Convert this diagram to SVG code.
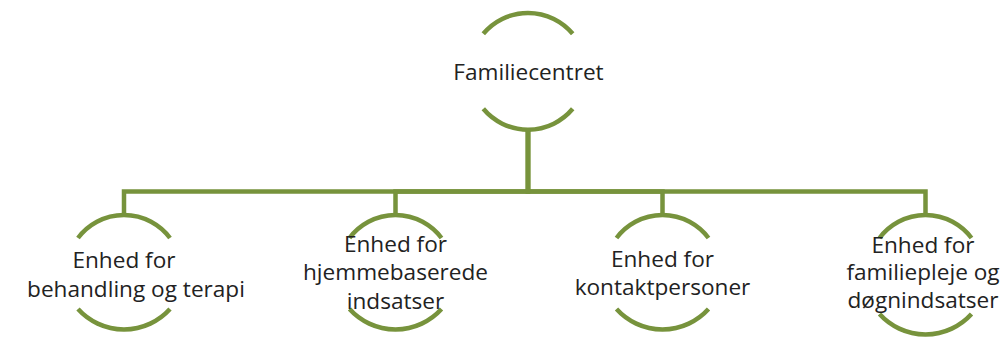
<svg xmlns="http://www.w3.org/2000/svg" width="1007" height="340" viewBox="0 0 1007 340">
  <style>
    .arc { fill: none; stroke: #77933C; stroke-width: 4.5; stroke-linecap: butt; }
    .conn { fill: none; stroke: #77933C; stroke-width: 4.5; stroke-linejoin: miter; }
    text { font-family: "Open Sans", "Liberation Sans", sans-serif; font-size: 22.6px; fill: #222222; text-anchor: middle; }
  </style>
  <rect width="1007" height="340" fill="#ffffff"/>
  <g id="connectors">
    <path class="conn" d="M528,130 V191.5 H124 V215"/>
    <path class="conn" d="M528,130 V191.5 H395.5 V215"/>
    <path class="conn" d="M528,130 V191.5 H662.5 V215"/>
    <path class="conn" d="M528,130 V191.5 H925.5 V215"/>
  </g>
  <g id="familiecentret">
    <path class="arc" d="M483.3,33.8 A58.3,58.3 0 0 1 572.7,33.8"/>
    <path class="arc" d="M483.3,108.8 A58.3,58.3 0 0 0 572.7,108.8"/>
    <text x="528.5" y="80">Familiecentret</text>
  </g>
  <g id="behandling">
    <path class="arc" d="M78,238 A57.5,57.5 0 0 1 170,238"/>
    <path class="arc" d="M78,309 A62,62 0 0 0 170,309"/>
    <text x="124" y="268">Enhed for</text>
    <text x="136" y="297">behandling og terapi</text>
  </g>
  <g id="hjemmebaserede">
    <path class="arc" d="M349.5,238 A57.5,57.5 0 0 1 441.5,238"/>
    <path class="arc" d="M349.5,309 A62,62 0 0 0 441.5,309"/>
    <text x="395.5" y="252">Enhed for</text>
    <text x="395.5" y="280">hjemmebaserede</text>
    <text x="395.5" y="309">indsatser</text>
  </g>
  <g id="kontaktpersoner">
    <path class="arc" d="M616.5,238 A57.5,57.5 0 0 1 708.5,238"/>
    <path class="arc" d="M616.5,309 A62,62 0 0 0 708.5,309"/>
    <text x="662.5" y="267">Enhed for</text>
    <text x="662.5" y="295">kontaktpersoner</text>
  </g>
  <g id="familiepleje">
    <path class="arc" d="M879.5,238 A57.5,57.5 0 0 1 971.5,238"/>
    <path class="arc" d="M879.5,314 A62,62 0 0 0 971.5,314"/>
    <text x="923" y="253">Enhed for</text>
    <text x="923" y="280">familiepleje og</text>
    <text x="923" y="308">døgnindsatser</text>
  </g>
</svg>
